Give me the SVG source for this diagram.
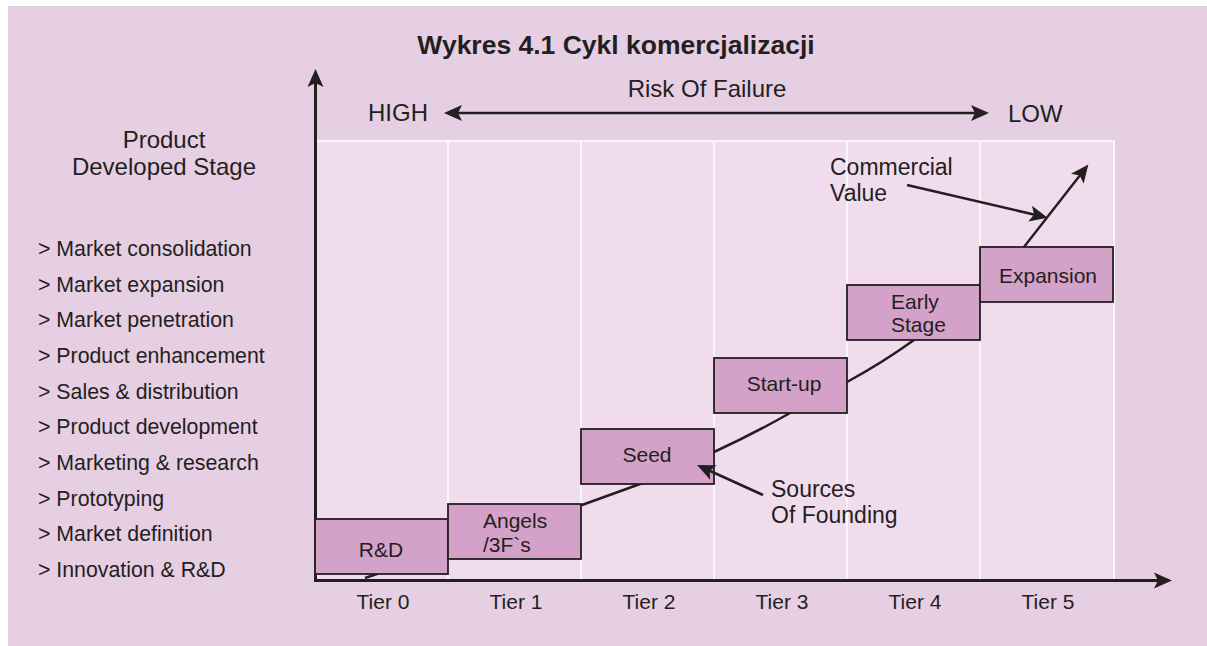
<svg xmlns="http://www.w3.org/2000/svg" width="1207" height="646" viewBox="0 0 1207 646">
<style>
text{font-family:"Liberation Sans",Arial,sans-serif;fill:#231F20}
.t21{font-size:21px}
.t23{font-size:23px}
.t24{font-size:24px}
.box{fill:#D4A2C8;stroke:#231F20;stroke-width:1.8}
.ln{fill:none;stroke:#231F20;stroke-width:2.5}
.ax{fill:none;stroke:#231F20;stroke-width:3}
.div{stroke:#FFFFFF;stroke-width:1.5}
</style>
<defs>
<marker id="ah" viewBox="-8 -10 22 20" refX="0" refY="0" markerWidth="22" markerHeight="20" markerUnits="userSpaceOnUse" orient="auto-start-reverse">
<path d="M12,0 L-6,-8 L-2,0 L-6,8 Z" fill="#231F20"/>
</marker>
</defs>
<rect x="0" y="0" width="1207" height="646" fill="#FFFFFF"/>
<rect x="8" y="6" width="1199" height="640" fill="#E6CEE3"/>
<g id="chart-area">
<rect x="315" y="141" width="799" height="440" fill="#F0DCEC" stroke="#FFFFFF" stroke-width="1.5"/>
<line class="div" x1="448" y1="141" x2="448" y2="581"/>
<line class="div" x1="581" y1="141" x2="581" y2="581"/>
<line class="div" x1="714" y1="141" x2="714" y2="581"/>
<line class="div" x1="847" y1="141" x2="847" y2="581"/>
<line class="div" x1="980" y1="141" x2="980" y2="581"/>
</g>
<text id="title" x="616" y="54" text-anchor="middle" font-size="26.5" font-weight="bold">Wykres 4.1 Cykl komercjalizacji</text>
<g id="risk">
<text class="t24" x="707" y="97" text-anchor="middle">Risk Of Failure</text>
<text class="t24" x="368" y="121">HIGH</text>
<text class="t24" x="1008" y="122">LOW</text>
</g>
<g id="stage-label">
<text class="t24" x="164" y="148" text-anchor="middle">Product</text>
<text class="t24" x="164" y="175" text-anchor="middle">Developed Stage</text>
</g>
<g id="stage-list" style="font-size:21.3px">
<text x="38" y="256">&gt; Market consolidation</text>
<text x="38" y="292">&gt; Market expansion</text>
<text x="38" y="327">&gt; Market penetration</text>
<text x="38" y="363">&gt; Product enhancement</text>
<text x="38" y="399">&gt; Sales &amp; distribution</text>
<text x="38" y="434">&gt; Product development</text>
<text x="38" y="470">&gt; Marketing &amp; research</text>
<text x="38" y="506">&gt; Prototyping</text>
<text x="38" y="541">&gt; Market definition</text>
<text x="38" y="577">&gt; Innovation &amp; R&amp;D</text>
</g>
<g id="tiers" class="t21" text-anchor="middle">
<text x="383" y="609">Tier 0</text>
<text x="516" y="609">Tier 1</text>
<text x="649" y="609">Tier 2</text>
<text x="782" y="609">Tier 3</text>
<text x="915" y="609">Tier 4</text>
<text x="1048" y="609">Tier 5</text>
</g>
<g id="connectors">
<line class="ax" x1="315.5" y1="582" x2="315.5" y2="81" marker-end="url(#ah)"/>
<line class="ax" x1="314" y1="580.5" x2="1160" y2="580.5" marker-end="url(#ah)"/>
<line class="ln" x1="456" y1="113" x2="977" y2="113" marker-start="url(#ah)" marker-end="url(#ah)"/>
<path class="ln" d="M365,578 L582,505 L640,484 L714,452 Q753,434 790,413 L847,382 Q882,363 914,340 L1024,247 Q1038,229 1081,174" marker-end="url(#ah)"/>
</g>
<g id="node-rd">
<rect class="box" x="315" y="519" width="133" height="55"/>
<text class="t21" x="381" y="557" text-anchor="middle">R&amp;D</text>
</g>
<g id="node-angels">
<rect class="box" x="448" y="504" width="133" height="55"/>
<text class="t21" x="483" y="528">Angels</text>
<text class="t21" x="483" y="552">/3F`s</text>
</g>
<g id="node-seed">
<rect class="box" x="581" y="429" width="133" height="55"/>
<text class="t21" x="647" y="462" text-anchor="middle">Seed</text>
</g>
<g id="node-startup">
<rect class="box" x="714" y="358" width="133" height="55"/>
<text class="t21" x="784" y="391" text-anchor="middle">Start-up</text>
</g>
<g id="node-early">
<rect class="box" x="847" y="285" width="133" height="55"/>
<text class="t21" x="891" y="309">Early</text>
<text class="t21" x="891" y="332">Stage</text>
</g>
<g id="node-expansion">
<rect class="box" x="980" y="247" width="133" height="55"/>
<text class="t21" x="1048" y="283" text-anchor="middle">Expansion</text>
</g>
<g id="pointers">
<line class="ln" x1="907" y1="185" x2="1036" y2="215" marker-end="url(#ah)"/>
<line class="ln" x1="763" y1="495" x2="708" y2="470" marker-end="url(#ah)"/>
</g>
<g id="label-commercial">
<text class="t23" x="830" y="175">Commercial</text>
<text class="t23" x="830" y="201">Value</text>
</g>
<g id="label-sources">
<text class="t23" x="771" y="497">Sources</text>
<text class="t23" x="771" y="523">Of Founding</text>
</g>
</svg>
